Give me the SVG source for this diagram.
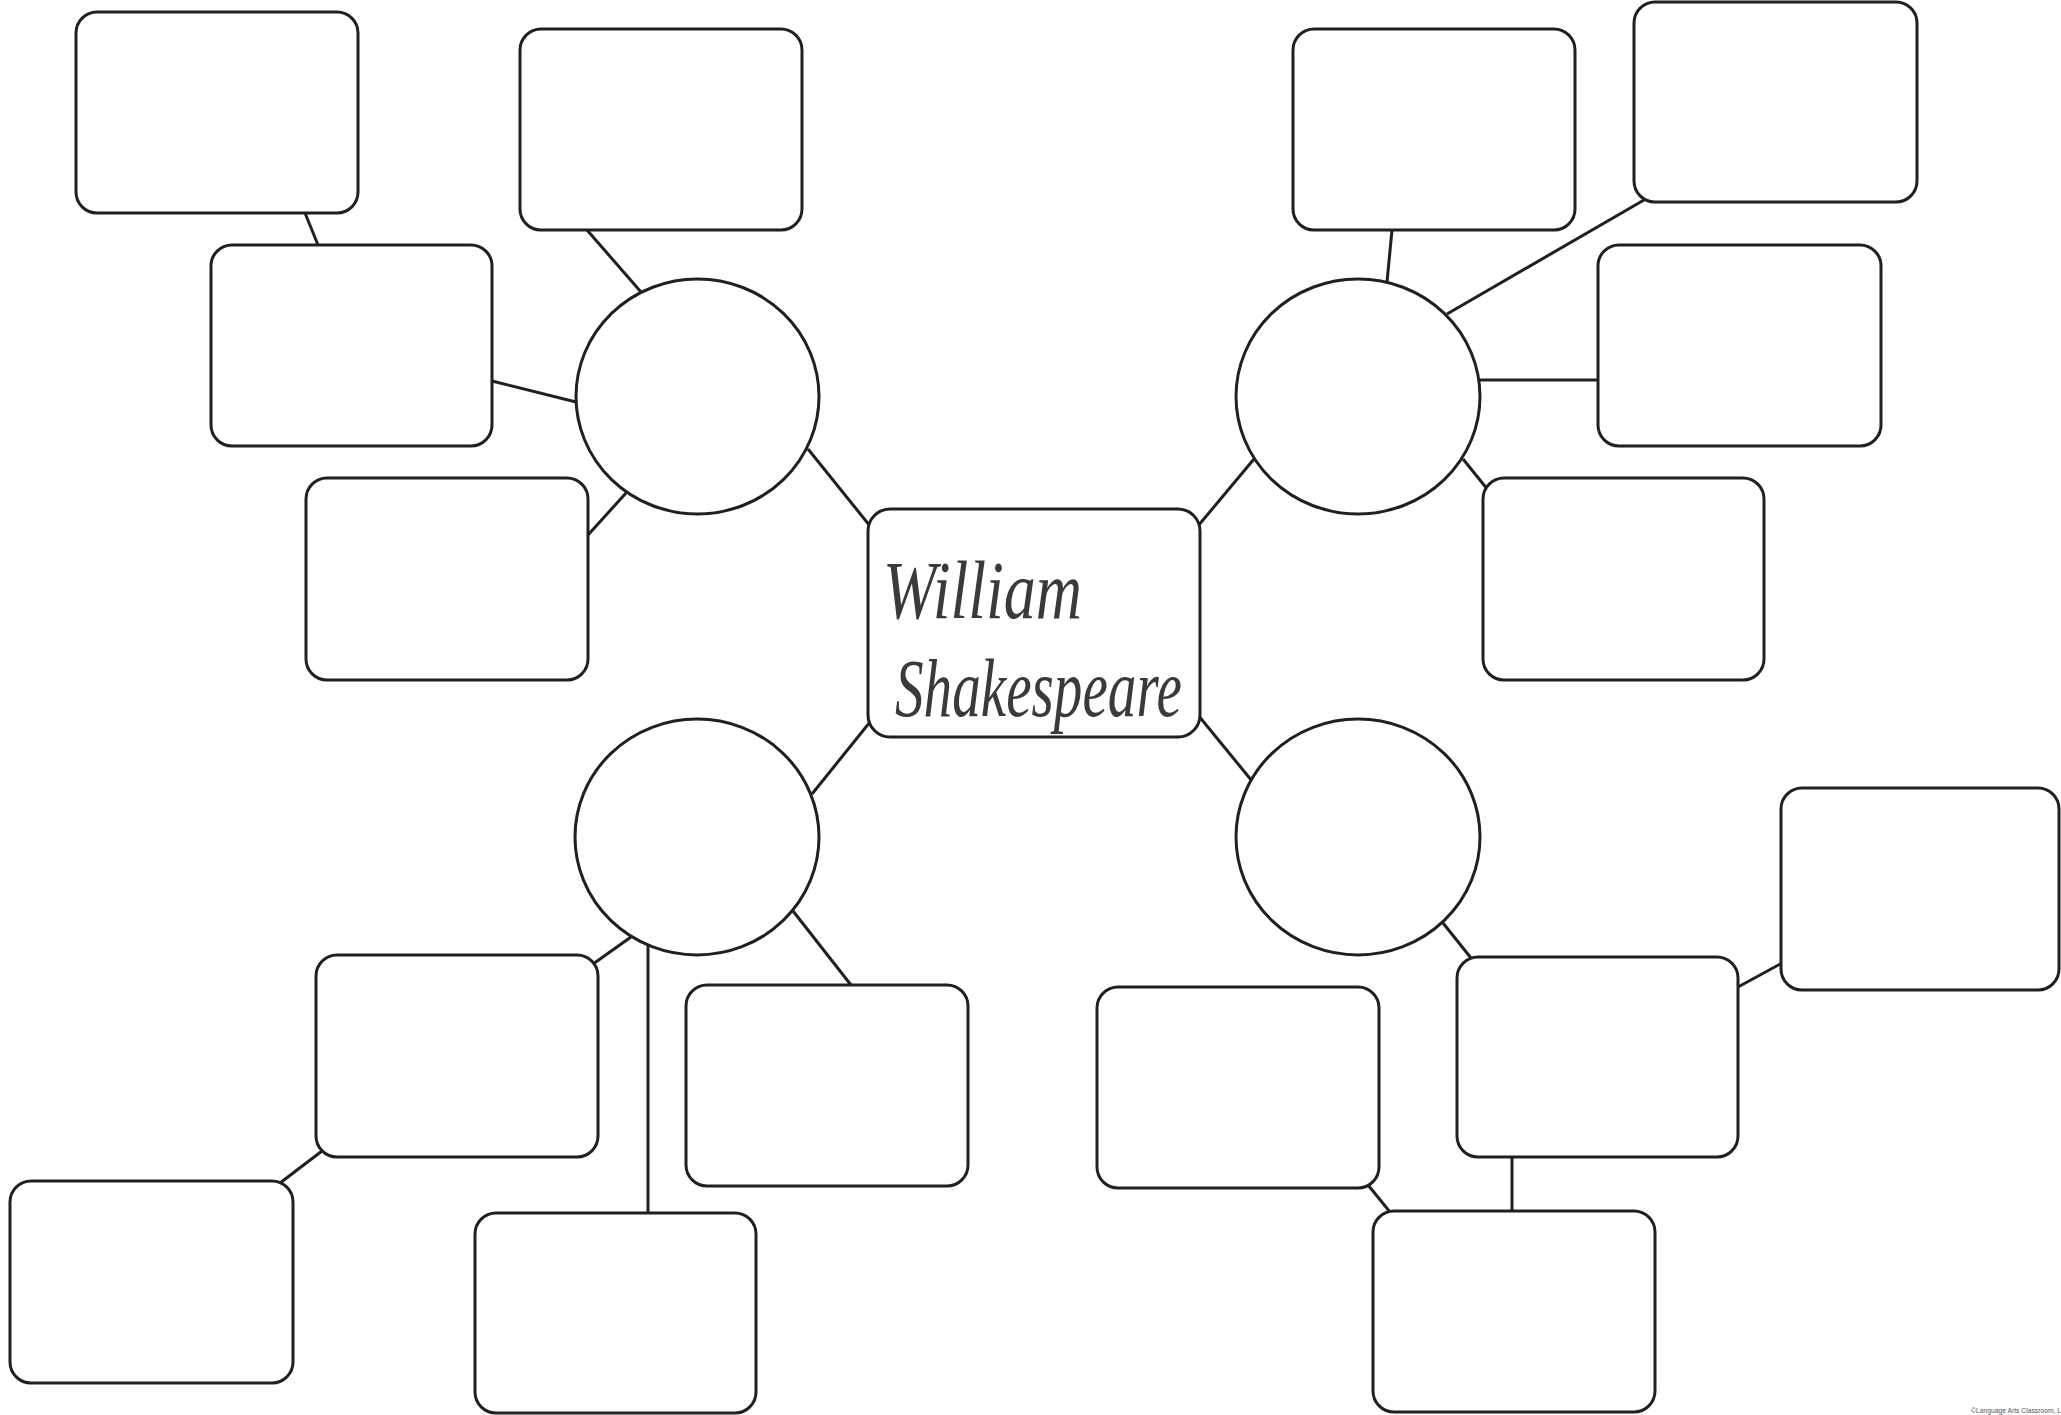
<svg xmlns="http://www.w3.org/2000/svg" width="2061" height="1415" viewBox="0 0 2061 1415">
<style>
.box{fill:#fff;stroke:#231f20;stroke-width:3}
.circ{fill:#fff;stroke:#231f20;stroke-width:3}
.conn line{stroke:#231f20;stroke-width:3;stroke-linecap:butt}
.script{font-family:"Liberation Serif","DejaVu Serif",serif;font-style:italic;font-size:82px;fill:#3a3a3a}
.copy{font-family:"Liberation Sans",Arial,sans-serif;font-size:7px;fill:#555}
</style>
<rect width="2061" height="1415" fill="#fff"/>
<g id="connectors" class="conn">
<line x1="305" y1="213" x2="318" y2="245"/>
<line x1="587" y1="230" x2="641" y2="292"/>
<line x1="492" y1="381" x2="576" y2="402"/>
<line x1="588" y1="535" x2="626" y2="493"/>
<line x1="808" y1="449" x2="870" y2="526"/>
<line x1="1198" y1="526" x2="1254" y2="459"/>
<line x1="1392" y1="230" x2="1387" y2="282"/>
<line x1="1644" y1="200" x2="1447" y2="314"/>
<line x1="1480" y1="380" x2="1598" y2="380"/>
<line x1="1463" y1="459" x2="1488" y2="490"/>
<line x1="870" y1="722" x2="812" y2="794"/>
<line x1="1198" y1="715" x2="1252" y2="781"/>
<line x1="593" y1="964" x2="631" y2="937"/>
<line x1="322" y1="1151" x2="280" y2="1183"/>
<line x1="648" y1="945" x2="648" y2="1213"/>
<line x1="793" y1="911" x2="851" y2="985"/>
<line x1="1443" y1="923" x2="1471" y2="958"/>
<line x1="1738" y1="987" x2="1782" y2="963"/>
<line x1="1512" y1="1157" x2="1512" y2="1211"/>
<line x1="1368" y1="1185" x2="1390" y2="1212"/>
</g>
<g id="circle-tl"><ellipse class="circ" cx="697.5" cy="396.5" rx="121.5" ry="117.5"/></g>
<g id="circle-tr"><ellipse class="circ" cx="1358" cy="396.5" rx="122" ry="117.5"/></g>
<g id="circle-bl"><ellipse class="circ" cx="697" cy="837" rx="122" ry="118"/></g>
<g id="circle-br"><ellipse class="circ" cx="1358" cy="837" rx="122" ry="118"/></g>
<g id="box-a"><rect class="box" x="76" y="12" width="282" height="201" rx="21"/></g>
<g id="box-b"><rect class="box" x="520" y="29" width="282" height="201" rx="21"/></g>
<g id="box-c"><rect class="box" x="211" y="245" width="281" height="201" rx="21"/></g>
<g id="box-d"><rect class="box" x="306" y="478" width="282" height="202" rx="21"/></g>
<g id="box-e"><rect class="box" x="1293" y="29" width="282" height="201" rx="21"/></g>
<g id="box-f"><rect class="box" x="1634" y="2" width="283" height="200" rx="21"/></g>
<g id="box-g"><rect class="box" x="1598" y="245" width="283" height="201" rx="21"/></g>
<g id="box-h"><rect class="box" x="1483" y="478" width="281" height="202" rx="21"/></g>
<g id="box-i"><rect class="box" x="316" y="955" width="282" height="202" rx="21"/></g>
<g id="box-j"><rect class="box" x="10" y="1181" width="283" height="202" rx="21"/></g>
<g id="box-k"><rect class="box" x="475" y="1213" width="281" height="200" rx="21"/></g>
<g id="box-l"><rect class="box" x="686" y="985" width="282" height="201" rx="21"/></g>
<g id="box-m"><rect class="box" x="1097" y="987" width="282" height="201" rx="21"/></g>
<g id="box-n"><rect class="box" x="1457" y="957" width="281" height="200" rx="21"/></g>
<g id="box-o"><rect class="box" x="1781" y="788" width="278" height="202" rx="21"/></g>
<g id="box-p"><rect class="box" x="1373" y="1211" width="282" height="201" rx="21"/></g>
<g id="center">
<rect class="box" x="868" y="509" width="332" height="228" rx="22"/>
<text class="script" x="883" y="618" textLength="199" lengthAdjust="spacingAndGlyphs">William</text>
<text class="script" x="895" y="716" textLength="287" lengthAdjust="spacingAndGlyphs">Shakespeare</text>
</g>
<text class="copy" x="1971" y="1413" textLength="90" lengthAdjust="spacingAndGlyphs">©Language Arts Classroom, L</text>
</svg>
